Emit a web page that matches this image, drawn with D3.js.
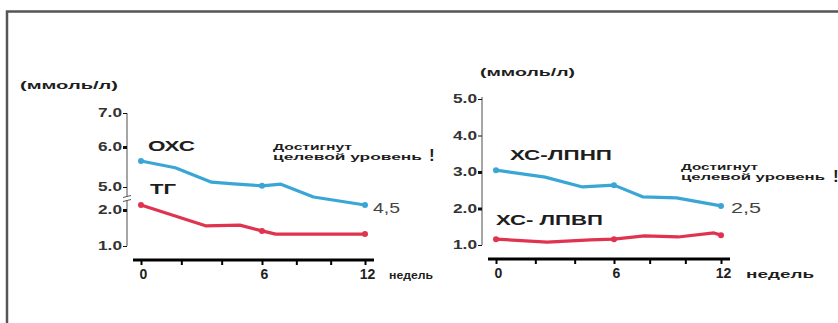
<!DOCTYPE html>
<html><head><meta charset="utf-8">
<script src="https://cdn.jsdelivr.net/npm/d3@7"></script>
<style>body{margin:0;background:#fff} svg{display:block} text{font-family:"Liberation Sans",Arial,sans-serif}</style>
</head><body><svg id="c" width="838" height="323"></svg>
<script>
// ---------- data ----------
const weekTicks = [0, 2, 4, 6, 8, 10, 12];
const weekLabels = [0, 6, 12];
const markerWeeks = [0, 6, 12];
// left panel
const leftYTicksUpper = [5, 6, 7];
const leftYTicksLower = [1, 2];
const ohsWeeks  = [0, 1.7, 3.5, 4.6, 6, 7.1, 9, 12];
const ohsValues = [5.65, 5.48, 5.12, 5.08, 5.03, 5.07, 4.75, 4.55];
const tgWeeks   = [0, 3.2, 4.9, 6, 6.8, 12];
const tgValues  = [2.14, 1.56, 1.58, 1.42, 1.33, 1.33];
// right panel
const rightYTicks = [1, 2, 3, 4, 5];
const ldlWeeks  = [0, 2.5, 4.4, 6, 7.6, 9.5, 12];
const ldlValues = [3.05, 2.86, 2.59, 2.64, 2.32, 2.29, 2.07];
const hdlWeeks  = [0, 2.6, 4.8, 6, 7.7, 9.6, 11.6, 12];
const hdlValues = [1.16, 1.08, 1.14, 1.16, 1.25, 1.22, 1.33, 1.27];

const BLUE = "#3aa6d6", RED = "#e0334f", TXT = "#1e1e1e";
const svg = d3.select("#c");

// frame
svg.append("path").attr("d", "M7,323 V11.5 H838").attr("fill", "none")
  .attr("stroke", "#555").attr("stroke-width", 2.5);

function txt(g, s, x, y, size, len, opts = {}) {
  const t = g.append("text").attr("x", x).attr("y", y).text(s)
    .style("font-size", size + "px").attr("font-weight", opts.weight || "bold")
    .attr("fill", opts.fill || TXT);
  if (len) t.attr("textLength", len).attr("lengthAdjust", "spacingAndGlyphs");
  return t;
}

function styleYAxis(g, bold) {
  g.select(".domain").remove();
  g.selectAll(".tick line").attr("stroke", "#111")
    .attr("stroke-width", d => bold.includes(d) ? 3 : 1);
  g.selectAll(".tick text").style("font-size", "12px").attr("font-weight", "bold")
    .attr("fill", "#333").attr("textLength", 24).attr("lengthAdjust", "spacingAndGlyphs");
}

function xAxis(x, yPos) {
  const g = svg.append("g").attr("transform", `translate(0,${yPos})`)
    .call(d3.axisBottom(x).tickValues(weekTicks).tickSize(5).tickPadding(4)
      .tickFormat(d => weekLabels.includes(d) ? d : ""));
  g.select(".domain").remove();
  g.append("line").attr("x1", x(0) - 8).attr("x2", x(12) + 9)
    .attr("stroke", "#000").attr("stroke-width", 3);
  g.selectAll(".tick line").attr("stroke", "#000").attr("stroke-width", 2);
  g.selectAll(".tick text").style("font-size", "14px").attr("font-weight", "bold")
    .attr("fill", "#222").attr("dx", 2);
}

function series(x, yf, weeks, vals, color) {
  const pts = weeks.map((w, i) => [w, vals[i]]);
  svg.append("path").datum(pts)
    .attr("d", d3.line().x(d => x(d[0])).y(d => yf(d[1])))
    .attr("fill", "none").attr("stroke", color).attr("stroke-width", 3.2)
    .attr("stroke-linejoin", "round").attr("stroke-linecap", "round");
  svg.selectAll(null).data(pts.filter(d => markerWeeks.includes(d[0]))).join("circle")
    .attr("cx", d => x(d[0])).attr("cy", d => yf(d[1])).attr("r", 3).attr("fill", color);
}

// ---------- left panel ----------
const xL = d3.scaleLinear().domain([0, 6, 12]).range([141, 262, 365]);
const yLU = d3.scaleLinear().domain([5, 6, 7]).range([187, 147, 113]);
const yLL = d3.scaleLinear().domain([1, 2]).range([246, 210]);
const axLx = 127;
svg.append("line").attr("x1", axLx).attr("x2", axLx).attr("y1", yLU(7)).attr("y2", yLL(1))
  .attr("stroke", "#888").attr("stroke-width", 1.5);
const gU = svg.append("g").attr("transform", `translate(${axLx},0)`)
  .call(d3.axisLeft(yLU).tickValues(leftYTicksUpper).tickSize(4).tickPadding(1).tickFormat(d3.format(".1f")));
styleYAxis(gU, [6]);
const gLo = svg.append("g").attr("transform", `translate(${axLx},0)`)
  .call(d3.axisLeft(yLL).tickValues(leftYTicksLower).tickSize(4).tickPadding(1).tickFormat(d3.format(".1f")));
styleYAxis(gLo, [2]);
// axis break
const by = (yLU(5) + yLL(2)) / 2;
svg.append("rect").attr("x", axLx - 4).attr("y", by - 2).attr("width", 8).attr("height", 4).attr("fill", "#fff");
[-2, 2].forEach(o => svg.append("line").attr("x1", axLx - 4).attr("x2", axLx + 4)
  .attr("y1", by + o + 1).attr("y2", by + o - 1).attr("stroke", "#555").attr("stroke-width", 1));
xAxis(xL, 260);
series(xL, yLU, ohsWeeks, ohsValues, BLUE);
series(xL, yLL, tgWeeks, tgValues, RED);

txt(svg, "(ммоль/л)", 20, 89, 11, 98);
txt(svg, "ОХС", 148, 151, 15, 47);
txt(svg, "ТГ", 150, 194, 14, 26);
txt(svg, "Достигнут", 273, 150, 9, 79);
txt(svg, "целевой уровень", 273, 160, 9, 149);
txt(svg, "!", 429, 161, 17);
txt(svg, "4,5", 373, 213, 15, 27, {weight: "normal", fill: "#444"});
txt(svg, "недель", 389, 279, 10, 44);

// ---------- right panel ----------
const xR = d3.scaleLinear().domain([0, 6, 12]).range([496, 614, 721]);
const yR = d3.scaleLinear().domain([1, 5]).range([245, 99]);
const axRx = 482;
svg.append("line").attr("x1", axRx).attr("x2", axRx).attr("y1", yR(5) - 2).attr("y2", yR(1))
  .attr("stroke", "#888").attr("stroke-width", 1.5);
const gR = svg.append("g").attr("transform", `translate(${axRx},0)`)
  .call(d3.axisLeft(yR).tickValues(rightYTicks).tickSize(4).tickPadding(1).tickFormat(d3.format(".1f")));
styleYAxis(gR, [2, 3]);
xAxis(xR, 259);
series(xR, yR, ldlWeeks, ldlValues, BLUE);
series(xR, yR, hdlWeeks, hdlValues, RED);

txt(svg, "(ммоль/л)", 480, 76, 11, 95);
txt(svg, "ХС-ЛПНП", 510, 160, 15, 102);
txt(svg, "ХС- ЛПВП", 496, 225, 15, 107);
txt(svg, "Достигнут", 681, 170, 9, 77);
txt(svg, "целевой уровень", 681, 180, 9, 144);
txt(svg, "!", 833, 182, 17);
txt(svg, "2,5", 731, 213, 15, 30, {weight: "normal", fill: "#444"});
txt(svg, "недель", 746, 278, 10, 68);
</script></body></html>
